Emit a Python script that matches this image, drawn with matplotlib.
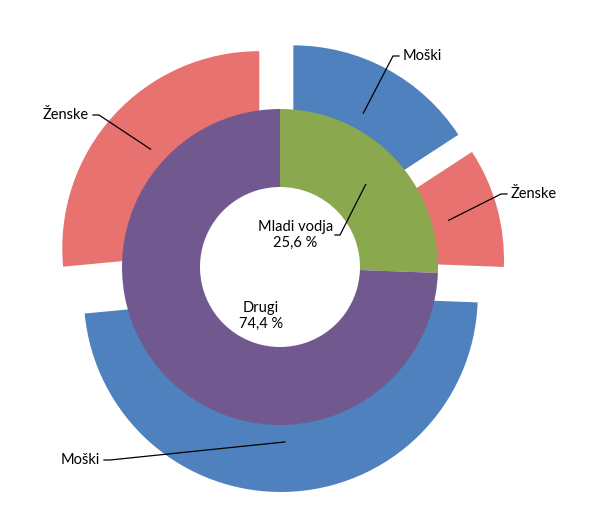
import numpy as np
import matplotlib
matplotlib.use("Agg")
import matplotlib.pyplot as plt

# ==========================================
# Data
# ==========================================

inner_labels = ["Mladi vodja", "Drugi"]
inner_values = [25.6, 74.4]

outer_labels = ["Moški", "Ženske", "Moški", "Ženske"]
outer_values = [15.8, 9.8, 47.9, 26.5]

inner_colors = ["#8AA84E", "#71588F"]
outer_colors = ["#4E81BD", "#E8726F", "#4E81BD", "#E8726F"]

# label text positions (pixels from centre) and alignment
outer_text_pos = [(123, 211, "left"), (231, 73, "left"),
                  (-180, -193, "right"), (-191, 152, "right")]

plt.rcParams["font.family"] = ["Lato", "DejaVu Sans"]

# ==========================================
# Figure
# ==========================================

fig = plt.figure(figsize=(6.03, 5.21), dpi=100)
ax = fig.add_axes([0, 0, 1, 1])

R_OUT = 197
W_OUT = 77
EXPL = 28
R_IN = 158
W_IN = 78

wedges_out, _ = ax.pie(
    outer_values,
    radius=R_OUT,
    startangle=90,
    counterclock=False,
    explode=[EXPL] * len(outer_values),
    colors=outer_colors,
    wedgeprops=dict(width=W_OUT, edgecolor="none"),
)

wedges_in, _ = ax.pie(
    inner_values,
    radius=R_IN,
    startangle=90,
    counterclock=False,
    colors=inner_colors,
    wedgeprops=dict(width=W_IN, edgecolor="none"),
)

# ==========================================
# Outer labels with leader lines
# ==========================================

for w, lab, (tx, ty, ha) in zip(wedges_out, outer_labels, outer_text_pos):
    mid = np.deg2rad((w.theta1 + w.theta2) / 2)
    ax_, ay_ = (EXPL + 147) * np.cos(mid), (EXPL + 147) * np.sin(mid)
    sgn = 1 if ha == "left" else -1
    ex = tx - sgn * 10
    ax.plot([ax_, ex, tx - sgn * 4], [ay_, ty, ty], color="black", lw=0.9)
    ax.text(tx, ty, lab, ha=ha, va="center", fontsize=10.5)

# ==========================================
# Inner labels
# ==========================================

w = wedges_in[0]
mid = np.deg2rad((w.theta1 + w.theta2) / 2)
r_mid = R_IN - W_IN / 2
gx, gy = r_mid * np.cos(mid), r_mid * np.sin(mid)
ax.plot([gx, 60, 55], [gy, 32, 32], color="black", lw=0.9)
ax.text(53, 32, f"{inner_labels[0]}\n{inner_values[0]:.1f} %".replace(".", ","),
        ha="right", va="center", multialignment="center", fontsize=10.5,
        linespacing=1.25)

ax.text(-19, -49, f"{inner_labels[1]}\n{inner_values[1]:.1f} %".replace(".", ","),
        ha="center", va="center", multialignment="center", fontsize=10.5,
        linespacing=1.25)

ax.set_xlim(-280, 323)
ax.set_ylim(-254, 267)
ax.set_aspect("equal")
ax.axis("off")

fig.savefig("out.png", dpi=100)
plt.close()
